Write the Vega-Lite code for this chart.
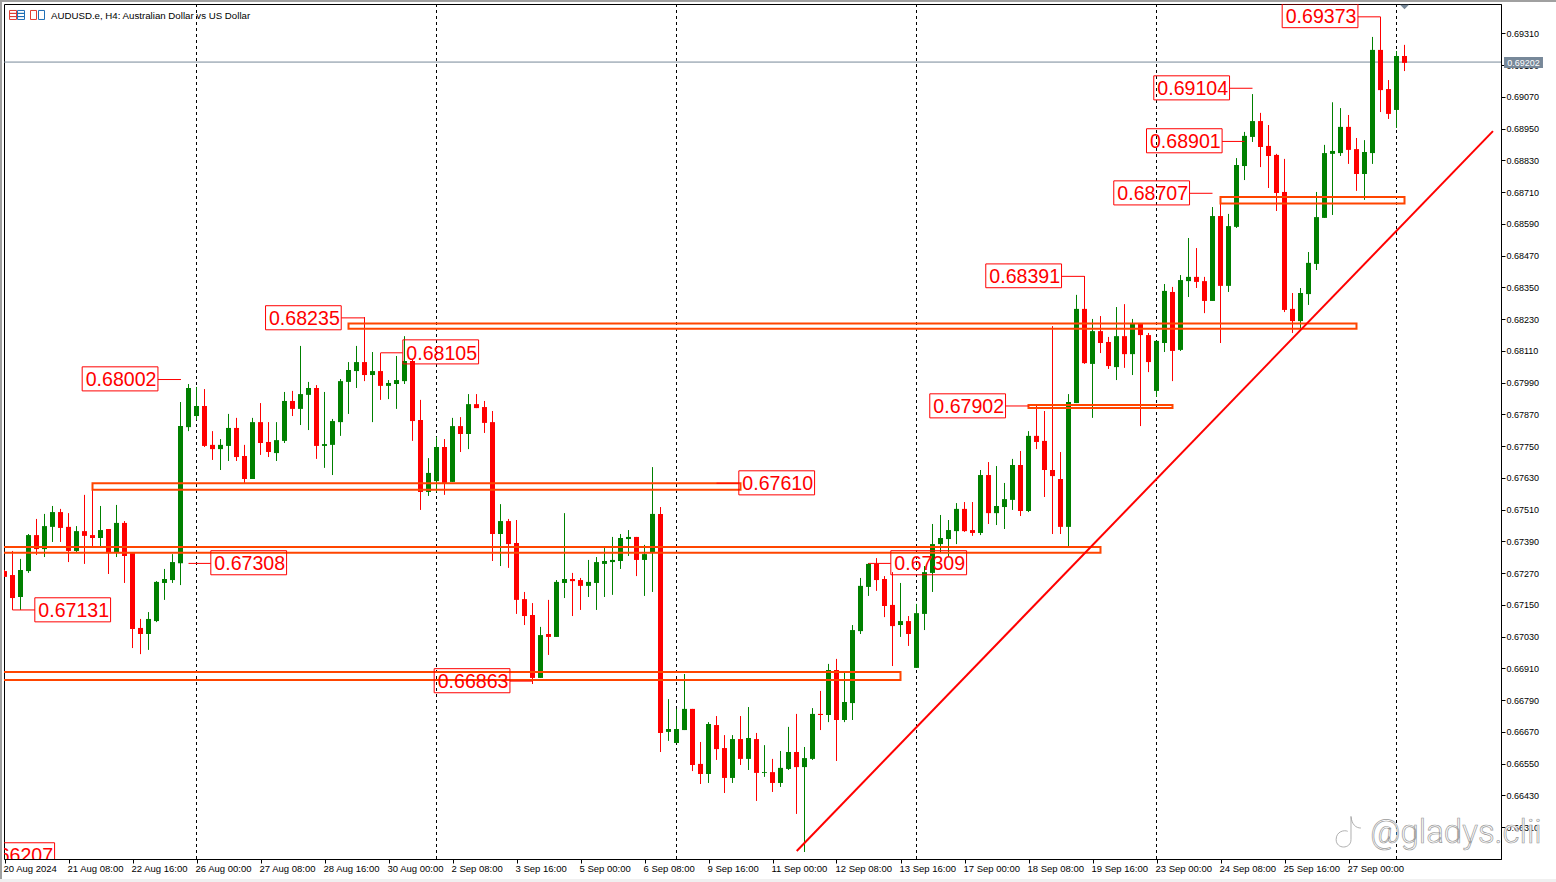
{"$schema":"https://vega.github.io/schema/vega-lite/v6.json","width":1497,"height":855,"autosize":"none","padding":{"left":4,"top":4,"right":55,"bottom":23},"background":"white","view":{"stroke":"black","strokeWidth":1,"fill":"white"},"config":{"axis":{"grid":false,"labelOverlap":false}},
"datasets":{
"candles":[
{"i":0,"o":0.67278,"h":0.67282,"l":0.67256,"c":0.67256},{"i":1,"o":0.67263,"h":0.67354,"l":0.67131,"c":0.67176},{"i":2,"o":0.6718,"h":0.67324,"l":0.67131,"c":0.67282},{"i":3,"o":0.67278,"h":0.67418,"l":0.67271,"c":0.67414},{"i":4,"o":0.67414,"h":0.67475,"l":0.67339,"c":0.67361},{"i":5,"o":0.67361,"h":0.67494,"l":0.67331,"c":0.67448},{"i":6,"o":0.67445,"h":0.67524,"l":0.67388,"c":0.67501},{"i":7,"o":0.67501,"h":0.67513,"l":0.67388,"c":0.67441},{"i":8,"o":0.67445,"h":0.67497,"l":0.67312,"c":0.67354},{"i":9,"o":0.67354,"h":0.67448,"l":0.6735,"c":0.67429},
{"i":10,"o":0.67429,"h":0.67566,"l":0.67305,"c":0.67411},{"i":11,"o":0.67414,"h":0.67611,"l":0.67369,"c":0.67403},{"i":12,"o":0.67403,"h":0.67524,"l":0.67369,"c":0.67433},{"i":13,"o":0.67437,"h":0.67437,"l":0.67267,"c":0.67346},{"i":14,"o":0.6735,"h":0.67528,"l":0.67331,"c":0.6746},{"i":15,"o":0.6746,"h":0.67467,"l":0.67233,"c":0.67335},{"i":16,"o":0.67346,"h":0.67346,"l":0.66987,"c":0.67059},{"i":17,"o":0.67063,"h":0.67097,"l":0.66964,"c":0.6704},{"i":18,"o":0.6704,"h":0.67123,"l":0.6698,"c":0.67097},{"i":19,"o":0.67089,"h":0.6724,"l":0.67085,"c":0.67237},
{"i":20,"o":0.67233,"h":0.67286,"l":0.67169,"c":0.67248},{"i":21,"o":0.67244,"h":0.67342,"l":0.67233,"c":0.67312},{"i":22,"o":0.67308,"h":0.67917,"l":0.67225,"c":0.67826},{"i":23,"o":0.67822,"h":0.67985,"l":0.67807,"c":0.6797},{"i":24,"o":0.67864,"h":0.67974,"l":0.67849,"c":0.67902},{"i":25,"o":0.67902,"h":0.67966,"l":0.67747,"c":0.67751},{"i":26,"o":0.67755,"h":0.67807,"l":0.67698,"c":0.67739},{"i":27,"o":0.67739,"h":0.67777,"l":0.6766,"c":0.67755},{"i":28,"o":0.67751,"h":0.67872,"l":0.67694,"c":0.67819},{"i":29,"o":0.67819,"h":0.67857,"l":0.67694,"c":0.67709},
{"i":30,"o":0.67713,"h":0.67755,"l":0.67611,"c":0.67626},{"i":31,"o":0.67626,"h":0.67857,"l":0.67626,"c":0.67841},{"i":32,"o":0.67841,"h":0.67913,"l":0.67717,"c":0.67762},{"i":33,"o":0.67766,"h":0.67841,"l":0.67709,"c":0.67728},{"i":34,"o":0.67724,"h":0.67841,"l":0.67694,"c":0.67773},{"i":35,"o":0.6777,"h":0.67955,"l":0.67762,"c":0.67921},{"i":36,"o":0.67921,"h":0.67959,"l":0.67864,"c":0.67891},{"i":37,"o":0.67891,"h":0.68129,"l":0.6783,"c":0.67947},{"i":38,"o":0.67944,"h":0.67993,"l":0.67811,"c":0.6797},{"i":39,"o":0.6797,"h":0.67981,"l":0.67702,"c":0.67751},
{"i":40,"o":0.67751,"h":0.67955,"l":0.67668,"c":0.67758},{"i":41,"o":0.67755,"h":0.67853,"l":0.67641,"c":0.67845},{"i":42,"o":0.67841,"h":0.68004,"l":0.67789,"c":0.67996},{"i":43,"o":0.67993,"h":0.68068,"l":0.67872,"c":0.68038},{"i":44,"o":0.68034,"h":0.68129,"l":0.6797,"c":0.68068},{"i":45,"o":0.68068,"h":0.68238,"l":0.67996,"c":0.68019},{"i":46,"o":0.68019,"h":0.68106,"l":0.67841,"c":0.68034},{"i":47,"o":0.68034,"h":0.68102,"l":0.67925,"c":0.67978},{"i":48,"o":0.67978,"h":0.68,"l":0.67928,"c":0.67989},{"i":49,"o":0.67985,"h":0.68091,"l":0.67891,"c":0.68},
{"i":50,"o":0.67996,"h":0.68166,"l":0.67985,"c":0.68072},{"i":51,"o":0.68072,"h":0.68076,"l":0.6777,"c":0.67845},{"i":52,"o":0.67849,"h":0.67925,"l":0.67509,"c":0.67577},{"i":53,"o":0.67577,"h":0.67705,"l":0.67562,"c":0.67649},{"i":54,"o":0.67618,"h":0.67785,"l":0.67577,"c":0.67747},{"i":55,"o":0.67747,"h":0.67777,"l":0.67566,"c":0.67611},{"i":56,"o":0.67615,"h":0.67857,"l":0.67615,"c":0.67826},{"i":57,"o":0.67826,"h":0.6786,"l":0.67728,"c":0.67796},{"i":58,"o":0.67796,"h":0.67947,"l":0.67739,"c":0.67909},{"i":59,"o":0.67909,"h":0.67947,"l":0.67894,"c":0.67894},
{"i":60,"o":0.67898,"h":0.67921,"l":0.678,"c":0.67838},{"i":61,"o":0.67841,"h":0.67883,"l":0.67316,"c":0.67418},{"i":62,"o":0.67418,"h":0.67531,"l":0.67297,"c":0.67467},{"i":63,"o":0.67467,"h":0.67475,"l":0.6729,"c":0.6738},{"i":64,"o":0.67384,"h":0.67471,"l":0.67116,"c":0.67169},{"i":65,"o":0.67172,"h":0.67199,"l":0.67074,"c":0.67108},{"i":66,"o":0.67112,"h":0.67157,"l":0.66851,"c":0.66874},{"i":67,"o":0.66874,"h":0.67067,"l":0.66874,"c":0.67036},{"i":68,"o":0.6704,"h":0.67169,"l":0.66961,"c":0.67029},{"i":69,"o":0.67029,"h":0.67244,"l":0.67029,"c":0.67237},
{"i":70,"o":0.67233,"h":0.67497,"l":0.67176,"c":0.67248},{"i":71,"o":0.67248,"h":0.67271,"l":0.67108,"c":0.6724},{"i":72,"o":0.67244,"h":0.67252,"l":0.67131,"c":0.67222},{"i":73,"o":0.67222,"h":0.6732,"l":0.6718,"c":0.67237},{"i":74,"o":0.67233,"h":0.67331,"l":0.67131,"c":0.67312},{"i":75,"o":0.67305,"h":0.67365,"l":0.6718,"c":0.67316},{"i":76,"o":0.67312,"h":0.67407,"l":0.67188,"c":0.6732},{"i":77,"o":0.67316,"h":0.67418,"l":0.67286,"c":0.67403},{"i":78,"o":0.67399,"h":0.67433,"l":0.67335,"c":0.67407},{"i":79,"o":0.67407,"h":0.67407,"l":0.67259,"c":0.6732},
{"i":80,"o":0.6732,"h":0.67377,"l":0.67184,"c":0.67342},{"i":81,"o":0.6735,"h":0.67671,"l":0.67199,"c":0.67494},{"i":82,"o":0.67494,"h":0.6752,"l":0.66594,"c":0.66666},{"i":83,"o":0.6667,"h":0.66794,"l":0.66636,"c":0.66681},{"i":84,"o":0.66628,"h":0.66757,"l":0.66628,"c":0.66681},{"i":85,"o":0.66677,"h":0.66889,"l":0.66677,"c":0.66757},{"i":86,"o":0.66757,"h":0.66757,"l":0.66522,"c":0.66545},{"i":87,"o":0.66549,"h":0.66632,"l":0.66473,"c":0.66511},{"i":88,"o":0.66511,"h":0.66707,"l":0.66477,"c":0.667},{"i":89,"o":0.66696,"h":0.6673,"l":0.66564,"c":0.66605},
{"i":90,"o":0.66609,"h":0.66658,"l":0.66439,"c":0.66496},{"i":91,"o":0.66496,"h":0.66658,"l":0.66477,"c":0.66643},{"i":92,"o":0.66643,"h":0.6673,"l":0.66545,"c":0.66568},{"i":93,"o":0.66568,"h":0.66764,"l":0.66526,"c":0.66647},{"i":94,"o":0.66643,"h":0.66666,"l":0.66409,"c":0.66515},{"i":95,"o":0.66515,"h":0.6662,"l":0.665,"c":0.66518},{"i":96,"o":0.66518,"h":0.66568,"l":0.66443,"c":0.66477},{"i":97,"o":0.66477,"h":0.66598,"l":0.66462,"c":0.66534},{"i":98,"o":0.6653,"h":0.66689,"l":0.66526,"c":0.66594},{"i":99,"o":0.66594,"h":0.66738,"l":0.6636,"c":0.66537},
{"i":100,"o":0.66537,"h":0.66613,"l":0.66216,"c":0.66571},{"i":101,"o":0.66568,"h":0.6676,"l":0.66564,"c":0.66738},{"i":102,"o":0.66738,"h":0.66825,"l":0.66677,"c":0.66734},{"i":103,"o":0.66734,"h":0.66927,"l":0.66707,"c":0.66904},{"i":104,"o":0.66904,"h":0.66946,"l":0.6656,"c":0.66715},{"i":105,"o":0.66715,"h":0.66893,"l":0.66707,"c":0.66783},{"i":106,"o":0.66779,"h":0.67074,"l":0.66715,"c":0.67055},{"i":107,"o":0.67051,"h":0.67252,"l":0.6704,"c":0.67222},{"i":108,"o":0.67218,"h":0.67308,"l":0.67184,"c":0.67305},{"i":109,"o":0.67305,"h":0.67327,"l":0.67203,"c":0.67244},
{"i":110,"o":0.67248,"h":0.67259,"l":0.67104,"c":0.67146},{"i":111,"o":0.6715,"h":0.67274,"l":0.66919,"c":0.6707},{"i":112,"o":0.67074,"h":0.67233,"l":0.67029,"c":0.67089},{"i":113,"o":0.67089,"h":0.67108,"l":0.66995,"c":0.6704},{"i":114,"o":0.66912,"h":0.67154,"l":0.66912,"c":0.67119},{"i":115,"o":0.67116,"h":0.67297,"l":0.67055,"c":0.67274},{"i":116,"o":0.67271,"h":0.67456,"l":0.67199,"c":0.6738},{"i":117,"o":0.6738,"h":0.6749,"l":0.6735,"c":0.67403},{"i":118,"o":0.67399,"h":0.67471,"l":0.67335,"c":0.67433},{"i":119,"o":0.67429,"h":0.67535,"l":0.6738,"c":0.67513},
{"i":120,"o":0.67513,"h":0.67539,"l":0.67426,"c":0.67429},{"i":121,"o":0.67433,"h":0.67539,"l":0.67411,"c":0.67422},{"i":122,"o":0.67422,"h":0.6766,"l":0.67414,"c":0.67641},{"i":123,"o":0.67641,"h":0.6769,"l":0.67456,"c":0.67497},{"i":124,"o":0.67497,"h":0.67675,"l":0.67452,"c":0.67524},{"i":125,"o":0.6752,"h":0.67611,"l":0.67437,"c":0.6755},{"i":126,"o":0.67547,"h":0.67702,"l":0.67509,"c":0.67679},{"i":127,"o":0.67679,"h":0.67732,"l":0.67486,"c":0.67505},{"i":128,"o":0.67505,"h":0.67807,"l":0.67501,"c":0.67789},{"i":129,"o":0.67789,"h":0.67902,"l":0.67739,"c":0.67766},
{"i":130,"o":0.6777,"h":0.67883,"l":0.67558,"c":0.6766},{"i":131,"o":0.6766,"h":0.68204,"l":0.67418,"c":0.67637},{"i":132,"o":0.67626,"h":0.67728,"l":0.67418,"c":0.67445},{"i":133,"o":0.67445,"h":0.67947,"l":0.67369,"c":0.67917},{"i":134,"o":0.67913,"h":0.68322,"l":0.67913,"c":0.68269},{"i":135,"o":0.68269,"h":0.68393,"l":0.68061,"c":0.68064},{"i":136,"o":0.68061,"h":0.68231,"l":0.67857,"c":0.68185},{"i":137,"o":0.68185,"h":0.68242,"l":0.68102,"c":0.6814},{"i":138,"o":0.68144,"h":0.68163,"l":0.68042,"c":0.68053},{"i":139,"o":0.68049,"h":0.68276,"l":0.68,"c":0.68166},
{"i":140,"o":0.68166,"h":0.68287,"l":0.68046,"c":0.68098},{"i":141,"o":0.68098,"h":0.68231,"l":0.68019,"c":0.68212},{"i":142,"o":0.68212,"h":0.68212,"l":0.67826,"c":0.6817},{"i":143,"o":0.6817,"h":0.68178,"l":0.6803,"c":0.68068},{"i":144,"o":0.67959,"h":0.68148,"l":0.67936,"c":0.68148},{"i":145,"o":0.6814,"h":0.68363,"l":0.68106,"c":0.68337},{"i":146,"o":0.68333,"h":0.68352,"l":0.67996,"c":0.6811},{"i":147,"o":0.68114,"h":0.68397,"l":0.6811,"c":0.68378},{"i":148,"o":0.68374,"h":0.68537,"l":0.68314,"c":0.6839},{"i":149,"o":0.6839,"h":0.68499,"l":0.68348,"c":0.68371},
{"i":150,"o":0.68374,"h":0.6839,"l":0.68253,"c":0.68299},{"i":151,"o":0.68299,"h":0.68654,"l":0.68299,"c":0.6862},{"i":152,"o":0.6862,"h":0.68692,"l":0.6814,"c":0.68356},{"i":153,"o":0.68356,"h":0.68628,"l":0.68333,"c":0.68582},{"i":154,"o":0.68579,"h":0.68839,"l":0.68575,"c":0.68813},{"i":155,"o":0.68809,"h":0.68938,"l":0.68756,"c":0.68923},{"i":156,"o":0.68919,"h":0.69081,"l":0.689,"c":0.68979},{"i":157,"o":0.68979,"h":0.6901,"l":0.68805,"c":0.68881},{"i":158,"o":0.68885,"h":0.68964,"l":0.68726,"c":0.68847},{"i":159,"o":0.68851,"h":0.68855,"l":0.68639,"c":0.68707},
{"i":160,"o":0.68711,"h":0.68836,"l":0.68257,"c":0.68265},{"i":161,"o":0.68269,"h":0.68329,"l":0.68178,"c":0.68223},{"i":162,"o":0.68223,"h":0.68348,"l":0.68189,"c":0.68329},{"i":163,"o":0.68325,"h":0.68484,"l":0.68284,"c":0.68443},{"i":164,"o":0.68439,"h":0.68711,"l":0.68416,"c":0.68616},{"i":165,"o":0.68613,"h":0.68889,"l":0.68613,"c":0.68858},{"i":166,"o":0.68855,"h":0.6905,"l":0.68624,"c":0.68866},{"i":167,"o":0.68858,"h":0.69028,"l":0.68847,"c":0.68957},{"i":168,"o":0.68957,"h":0.69002,"l":0.68817,"c":0.6887},{"i":169,"o":0.68873,"h":0.68915,"l":0.68715,"c":0.68779},
{"i":170,"o":0.68779,"h":0.68907,"l":0.68681,"c":0.68862},{"i":171,"o":0.68858,"h":0.69297,"l":0.68817,"c":0.69248},{"i":172,"o":0.69248,"h":0.69373,"l":0.69013,"c":0.69096},{"i":173,"o":0.691,"h":0.69134,"l":0.68987,"c":0.69006},{"i":174,"o":0.69021,"h":0.69244,"l":0.68953,"c":0.69225},{"i":175,"o":0.69225,"h":0.69267,"l":0.69168,"c":0.69199}
],
"zones":[
{"a":11,"b":92,"t":0.6761,"u":0.67585},{"a":-5,"b":137,"t":0.67369,"u":0.67347},{"a":-5,"b":112,"t":0.66896,"u":0.66866},{"a":43,"b":169,"t":0.68214,"u":0.68194},{"a":128,"b":146,"t":0.67906,"u":0.67894},{"a":152,"b":175,"t":0.68692,"u":0.68667}
],
"callouts":[
{"t":"0.68002","x0":9.71,"x1":19.18,"p1":0.6805,"p0":0.67959,"tx":14.45,"ty":0.68005,"lx0":19.18,"lx1":22.06,"lp":0.68002},
{"t":"0.67308","x0":25.79,"x1":35.26,"p1":0.67355,"p0":0.67264,"tx":30.53,"ty":0.67309,"lx0":23,"lx1":25.79,"lp":0.67307},
{"t":"0.67131","x0":3.79,"x1":13.26,"p1":0.67177,"p0":0.67086,"tx":8.53,"ty":0.67131,"lx0":1,"lx1":3.79,"lp":0.67131},
{"t":"0.68235","x0":32.63,"x1":42.09,"p1":0.68281,"p0":0.6819,"tx":37.36,"ty":0.68235,"lx0":42.09,"lx1":45,"lp":0.68235},
{"t":"0.68105","x0":49.79,"x1":59.26,"p1":0.68152,"p0":0.68061,"tx":54.53,"ty":0.68106,"lx0":47,"lx1":49.79,"lp":0.68103},
{"t":"0.67610","x0":91.79,"x1":101.26,"p1":0.67657,"p0":0.67566,"tx":96.53,"ty":0.67611,"lx0":89,"lx1":91.79,"lp":0.6761},
{"t":"0.66863","x0":53.71,"x1":63.18,"p1":0.66909,"p0":0.66818,"tx":58.45,"ty":0.66863,"lx0":63.18,"lx1":66,"lp":0.66862},
{"t":"0.67309","x0":110.79,"x1":120.26,"p1":0.67355,"p0":0.67264,"tx":115.53,"ty":0.67309,"lx0":108,"lx1":110.79,"lp":0.67307},
{"t":"0.67902","x0":115.66,"x1":125.13,"p1":0.67948,"p0":0.67857,"tx":120.4,"ty":0.67902,"lx0":125.13,"lx1":128,"lp":0.67902},
{"t":"0.68391","x0":122.66,"x1":132.13,"p1":0.68439,"p0":0.68349,"tx":127.4,"ty":0.68394,"lx0":132.13,"lx1":135,"lp":0.68392},
{"t":"0.68707","x0":138.66,"x1":148.13,"p1":0.68753,"p0":0.68662,"tx":143.4,"ty":0.68708,"lx0":148.13,"lx1":151,"lp":0.68706},
{"t":"0.68901","x0":142.75,"x1":152.2,"p1":0.6895,"p0":0.68859,"tx":147.48,"ty":0.68904,"lx0":152.2,"lx1":155,"lp":0.68902},
{"t":"0.69104","x0":143.66,"x1":153.13,"p1":0.6915,"p0":0.69059,"tx":148.4,"ty":0.69105,"lx0":153.13,"lx1":156,"lp":0.69103},
{"t":"0.69373","x0":159.71,"x1":169.18,"p1":0.69422,"p0":0.69332,"tx":164.45,"ty":0.69377,"lx0":169.18,"lx1":172,"lp":0.69373},
{"t":"0.66207","x0":-3.21,"x1":6.26,"p1":0.66251,"p0":0.6616,"tx":1.53,"ty":0.66206,"lx0":6.26,"lx1":6.26,"lp":0.66207}
],
"seps":[{"i":24},{"i":54},{"i":84},{"i":114},{"i":144},{"i":174}],
"trend":[{"i":99.03,"p":0.6622},{"i":186.06,"p":0.68941}],
"strips":[
{"kind":"edge","a":-0.5625,"b":193.94,"t":0.694366,"u":0.69429},
{"kind":"edge","a":-0.5625,"b":-0.3125,"t":0.694366,"u":0.661026},
{"kind":"foot","a":-0.5625,"b":193.94,"t":0.66114,"u":0.661026}
],
"icons":[
{"kind":"r","a":0.63,"b":1.5,"t":0.69397,"u":0.69363},{"kind":"b","a":1.63,"b":2.5,"t":0.69397,"u":0.69363},{"kind":"r","a":3.25,"b":4,"t":0.69397,"u":0.69363},{"kind":"b","a":4.25,"b":5,"t":0.69397,"u":0.69363},
{"kind":"r","a":0.63,"b":1.5,"t":0.69386,"u":0.69386},{"kind":"r","a":0.63,"b":1.5,"t":0.69374,"u":0.69374},{"kind":"b","a":1.63,"b":2.5,"t":0.69386,"u":0.69386},{"kind":"b","a":1.63,"b":2.5,"t":0.69374,"u":0.69374}
]
},
"data":{"name":"candles"},
"layer":[
{"data":{"name":"seps"},"mark":{"type":"rule","color":"black","strokeWidth":1,"strokeDash":[3,3]},
"encoding":{"x":{"field":"i","type":"quantitative","scale":{"domain":[-0.0625,187.0625],"nice":false,"zero":false},
"axis":{"values":[0,8,16,24,32,40,48,56,64,72,80,88,96,104,112,120,128,136,144,152,160,168],"tickCount":60,"title":null,"grid":false,"domainColor":"black","tickColor":"black","tickSize":4,"labelColor":"black","labelFont":"Liberation Sans","labelFontSize":9.5,"labelAlign":"left","labelBaseline":"top","labelPadding":0,"labelOffset":-1.5,"labelOverlap":false,"labelBound":false,"labelFlush":false,"labelExpr":"['20 Aug 2024','21 Aug 08:00','22 Aug 16:00','26 Aug 00:00','27 Aug 08:00','28 Aug 16:00','30 Aug 00:00','2 Sep 08:00','3 Sep 16:00','5 Sep 00:00','6 Sep 08:00','9 Sep 16:00','11 Sep 00:00','12 Sep 08:00','13 Sep 16:00','17 Sep 00:00','18 Sep 08:00','19 Sep 16:00','23 Sep 00:00','24 Sep 08:00','25 Sep 16:00','27 Sep 00:00'][datum.value/8]"}}}},
{"data":{"values":[{"p":0.69202}]},"mark":{"type":"rule","color":"#778899","strokeWidth":1},
"encoding":{"y":{"field":"p","type":"quantitative","scale":{"domain":[0.661896,0.694215],"nice":false,"zero":false},
"axis":{"orient":"right","values":[0.6931,0.6919,0.6907,0.6895,0.6883,0.6871,0.6859,0.6847,0.6835,0.6823,0.6811,0.6799,0.6787,0.6775,0.6763,0.6751,0.6739,0.6727,0.6715,0.6703,0.6691,0.6679,0.6667,0.6655,0.6643,0.6631],"tickCount":60,"format":".5f","title":null,"grid":false,"domainColor":"black","tickColor":"black","tickSize":4,"labelColor":"black","labelFont":"Liberation Sans","labelFontSize":9,"labelPadding":1,"labelOverlap":false,"labelBound":false,"labelFlush":false}}}},
{"mark":{"type":"rule","strokeWidth":1,"clip":true},"encoding":{"x":{"field":"i","type":"quantitative"},"y":{"field":"h","type":"quantitative"},"y2":{"field":"l"},"color":{"condition":{"test":"datum.c>datum.o","value":"#008000"},"value":"#ff0000"}}},
{"mark":{"type":"rule","strokeWidth":5,"clip":true},"encoding":{"x":{"field":"i","type":"quantitative"},"y":{"field":"o","type":"quantitative"},"y2":{"field":"c"},"color":{"condition":{"test":"datum.c>datum.o","value":"#008000"},"value":"#ff0000"}}},
{"data":{"name":"zones"},"mark":{"type":"rect","filled":false,"stroke":"#ff4500","strokeWidth":2,"clip":true},"encoding":{"x":{"field":"a","type":"quantitative"},"x2":{"field":"b"},"y":{"field":"t","type":"quantitative"},"y2":{"field":"u"}}},
{"data":{"name":"trend"},"mark":{"type":"line","color":"#ff0000","strokeWidth":2,"clip":true},"encoding":{"x":{"field":"i","type":"quantitative"},"y":{"field":"p","type":"quantitative"}}},
{"data":{"name":"callouts"},"mark":{"type":"rect","filled":false,"stroke":"#ff0000","strokeWidth":1,"clip":true},"encoding":{"x":{"field":"x0","type":"quantitative"},"x2":{"field":"x1"},"y":{"field":"p1","type":"quantitative"},"y2":{"field":"p0"}}},
{"data":{"name":"callouts"},"mark":{"type":"rule","color":"#ff0000","strokeWidth":1,"clip":true},"encoding":{"x":{"field":"lx0","type":"quantitative"},"x2":{"field":"lx1"},"y":{"field":"lp","type":"quantitative"}}},
{"data":{"name":"callouts"},"mark":{"type":"text","color":"#ff0000","font":"Liberation Sans","fontSize":19.6,"align":"center","baseline":"middle","dx":1,"dy":1.5,"clip":true},"encoding":{"x":{"field":"tx","type":"quantitative"},"y":{"field":"ty","type":"quantitative"},"text":{"field":"t"}}},
{"data":{"values":[{"a":187.44,"b":192.31,"t":0.692211,"u":0.691796}]},"mark":{"type":"rect","fill":"#778899"},"encoding":{"x":{"field":"a","type":"quantitative"},"x2":{"field":"b"},"y":{"field":"t","type":"quantitative"},"y2":{"field":"u"}}},
{"data":{"values":[{"i":189.87,"p":0.692,"t":"0.69202"}]},"mark":{"type":"text","color":"white","font":"Liberation Sans","fontSize":9,"align":"center","baseline":"middle"},"encoding":{"x":{"field":"i","type":"quantitative"},"y":{"field":"p","type":"quantitative"},"text":{"field":"t"}}},
{"data":{"values":[{"i":175,"p":0.6941}]},"mark":{"type":"point","shape":"M-1,-0.5 L1,-0.5 L0,0.5 Z","filled":true,"color":"#778899","size":81,"opacity":1},"encoding":{"x":{"field":"i","type":"quantitative"},"y":{"field":"p","type":"quantitative"}}},
{"data":{"values":[{"i":5.81,"p":0.69376,"t":"AUDUSD.e, H4:  Australian Dollar vs US Dollar"}]},"mark":{"type":"text","color":"black","font":"Liberation Sans","fontSize":9.7,"align":"left","baseline":"middle"},"encoding":{"x":{"field":"i","type":"quantitative"},"y":{"field":"p","type":"quantitative"},"text":{"field":"t"}}},
{"data":{"name":"icons"},"mark":{"type":"rect","filled":false,"strokeWidth":1},"encoding":{"x":{"field":"a","type":"quantitative"},"x2":{"field":"b"},"y":{"field":"t","type":"quantitative"},"y2":{"field":"u"},"stroke":{"field":"kind","type":"nominal","legend":null,"scale":{"domain":["r","b"],"range":["#e03c32","#1f6fb5"]}}}},
{"data":{"name":"strips"},"mark":{"type":"rect"},"encoding":{"x":{"field":"a","type":"quantitative"},"x2":{"field":"b"},"y":{"field":"t","type":"quantitative"},"y2":{"field":"u"},"fill":{"field":"kind","type":"nominal","legend":null,"scale":{"domain":["edge","foot"],"range":["#a0a0a0","#f0f0f0"]}}}},
{"data":{"values":[{"i":181.44,"p":0.66288,"t":"@gladys.clii"}]},"mark":{"type":"text","font":"Roboto","fontWeight":300,"fontSize":33,"fill":"white","stroke":"#9a9a9a","strokeWidth":0.7,"align":"center","baseline":"middle"},"encoding":{"x":{"field":"i","type":"quantitative"},"y":{"field":"p","type":"quantitative"},"text":{"field":"t"}}},
{"data":{"values":[{"i":167.9,"p":0.66288}]},"mark":{"type":"point","shape":"M0.2,-1 C0.25,-0.5 0.5,-0.3 0.8,-0.3 M0.2,-1 L0.2,0.4 C0.2,1 -0.7,1 -0.7,0.4 C-0.7,-0.1 -0.2,-0.2 0,-0.1","filled":false,"stroke":"#9a9a9a","strokeWidth":0.8,"size":1089,"opacity":1},"encoding":{"x":{"field":"i","type":"quantitative"},"y":{"field":"p","type":"quantitative"}}}
],
"resolve":{"scale":{"color":"independent","stroke":"independent","fill":"independent"}}
}
